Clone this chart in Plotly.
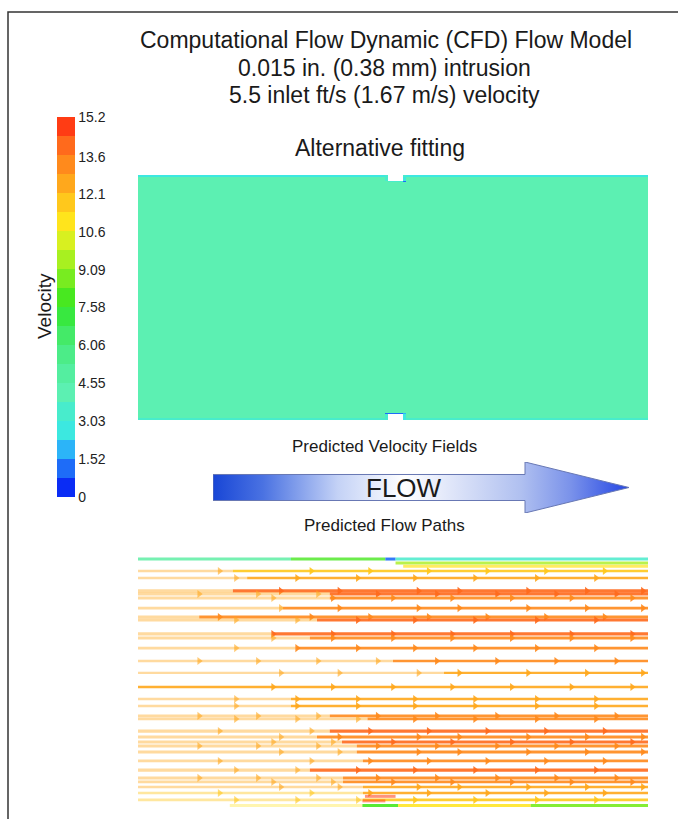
import plotly.graph_objects as go

# ---- velocity legend (m/s) -------------------------------------------------
VEL_MIN, VEL_MAX = 0.0, 15.2
TICK_VALUES = [0, 1.52, 3.03, 4.55, 6.06, 7.58, 9.09, 10.6, 12.1, 13.6, 15.2]
TICK_LABELS = ["0", "1.52", "3.03", "4.55", "6.06", "7.58", "9.09",
               "10.6", "12.1", "13.6", "15.2"]
BAND_COLORS = [
    "#0a2cf5", "#1e6cf8", "#2cb4f8", "#3ce8e0", "#48eccc",
    "#5cf0b2", "#54eea0", "#4cec88", "#44ea68", "#38e840",
    "#48e820", "#78ec20", "#a8f020", "#d8f020", "#ffe41c",
    "#ffc81c", "#ffa81c", "#ff8a1c", "#ff6a1c", "#ff3c14",
]

# ---- predicted velocity field, alternative fitting (coarse cells, % of pipe) --
FIELD_X_EDGES = [0, 48.4, 49.0, 52.0, 52.6, 100]
FIELD_Y_EDGES = [0, 1.0, 2.4, 3.0, 97.0, 97.6, 99.0, 100]
FIELD_VEL = [
    [3.4, 3.4, None, 2.4, 3.4],
    [4.2, 3.6, None, 2.4, 4.2],
    [4.2, 1.2, 1.0, 2.0, 4.2],
    [4.2, 4.2, 4.2, 4.2, 4.2],
    [4.2, 4.2, 3.4, 1.2, 4.2],
    [4.2, 3.6, None, 3.0, 4.2],
    [2.9, 3.4, None, 3.4, 2.9],
]

# ---- predicted flow paths (% of length, % of diameter) ---------------------
PATH_Y = [94.1, 91.3, 86.2, 85.0, 83.4, 79.4, 75.9, 74.7, 69.2, 67.6,
          63.6, 58.5, 53.8, 48.2, 43.5, 40.7, 36.8, 35.6, 30.8, 28.5,
          26.5, 24.9, 22.5, 19.0, 15.4, 12.3, 10.7, 8.7, 6.3, 3.6]
PATH_SPLIT = [18.6, 21.4, 18.6, 37.6, 37.6, 28.4, 12.0, 35.1, 26.5, 33.7,
              31.2, 50.0, 60.0, 0.0, 30.0, 30.0, 37.6, 45.0, 37.6, 35.1,
              40.0, 42.9, 42.9, 44.1, 33.7, 40.2, 40.2, 44.1, 44.1, 44.1]
PATH_V_IN = [12.3, 12.3, 12.5, 12.3, 12.3, 12.3, 12.5, 12.3, 12.3, 12.3,
             12.3, 12.3, 12.3, 12.3, 12.3, 12.3, 12.3, 12.3, 12.3, 12.3,
             12.3, 12.3, 12.3, 12.3, 12.3, 12.3, 12.3, 12.3, 12.0, 11.8]
PATH_V_OUT = [12.1, 12.6, 13.8, 13.8, 13.6, 13.6, 13.6, 13.8, 13.8, 13.6,
              13.4, 13.0, 12.6, 12.6, 12.8, 12.8, 13.4, 13.6, 13.8, 13.6,
              13.8, 13.6, 13.6, 13.6, 13.8, 13.6, 13.4, 12.8, 12.4, 11.8]
PATH_WIDTH = [2.6, 2.6, 3.2, 3.2, 3.0, 2.8, 3.0, 3.0, 3.2, 3.0,
              2.8, 2.6, 2.4, 2.4, 2.4, 2.4, 2.8, 2.8, 3.2, 3.0,
              3.0, 3.0, 3.0, 2.8, 3.2, 3.0, 2.8, 2.6, 2.6, 2.6]
PATH_ARROW_SET = [3, 1, 4, 2, 0, 4, 3, 1, 0, 0,
                  1, 2, 4, 0, 1, 1, 2, 1, 3, 4,
                  0, 2, 4, 3, 1, 2, 0, 4, 3, 1]
ARROW_SETS = [
    [26.5, 38.2, 50.0, 61.6, 73.3, 85.0, 96.9],
    [19.2, 31.2, 43.1, 54.3, 66.1, 78.2, 89.8],
    [12.0, 23.5, 35.3, 47.0, 58.6, 70.4, 82.0, 93.8],
    [16.0, 34.0, 45.5, 57.0, 68.5, 80.0, 91.5],
    [28.0, 39.5, 55.0, 63.0, 76.5, 88.0, 99.0],
]

# near-wall and recirculation pathlines: (y, start, end, velocity, opacity)
WALL_Y = [98.8, 98.8, 98.8, 98.8, 97.2, 95.9, 1.4, 1.4, 1.4, 1.4, 5.0, 3.2]
WALL_X0 = [0.0, 30.0, 48.5, 50.5, 50.5, 52.0, 18.0, 44.0, 51.0, 77.0, 44.5, 44.0]
WALL_X1 = [30.0, 48.5, 50.5, 100.0, 100.0, 100.0, 44.0, 51.0, 77.0, 100.0, 50.5, 48.5]
WALL_V = [4.8, 8.0, 1.0, 3.6, 9.6, 11.0, 11.0, 8.2, 11.0, 8.4, 14.6, 14.8]
WALL_ALPHA = [0.8, 0.8, 0.9, 0.85, 0.8, 0.7, 0.35, 0.9, 0.85, 0.9, 0.55, 0.5]

FONT = "Liberation Sans, Arial, sans-serif"
W, H = 678, 819


def band_color(v):
    i = int(v / ((VEL_MAX - VEL_MIN) / len(BAND_COLORS)))
    return BAND_COLORS[max(0, min(i, len(BAND_COLORS) - 1))]


def px_x(p):
    return p / W


def px_y(p):
    return 1 - p / H


colorscale = []
n = len(BAND_COLORS)
for i, c in enumerate(BAND_COLORS):
    colorscale.append([i / n, c])
    colorscale.append([(i + 1) / n, c])

fig = go.Figure()

# velocity field
fig.add_trace(go.Heatmap(
    x=FIELD_X_EDGES, y=FIELD_Y_EDGES, z=FIELD_VEL,
    zmin=VEL_MIN, zmax=VEL_MAX, colorscale=colorscale,
    hoverinfo="skip", xaxis="x", yaxis="y",
    colorbar=dict(
        x=px_x(57), xanchor="left", y=px_y(307), yanchor="middle",
        thickness=18, thicknessmode="pixels", len=380, lenmode="pixels",
        tickvals=TICK_VALUES, ticktext=TICK_LABELS, ticks="",
        tickfont=dict(family=FONT, size=14, color="#222222"),
        outlinewidth=0, ypad=0, xpad=0,
    ),
))

# flow paths: inlet (faint) and developed (strong) portions
IN_ALPHA, OUT_ALPHA = 0.42, 0.9
for k, y in enumerate(PATH_Y):
    split = PATH_SPLIT[k]
    w = PATH_WIDTH[k]
    c_in, c_out = band_color(PATH_V_IN[k]), band_color(PATH_V_OUT[k])
    if split > 0:
        fig.add_trace(go.Scatter(
            x=[0, split], y=[y, y], mode="lines", xaxis="x2", yaxis="y2",
            line=dict(color=c_in, width=w), opacity=IN_ALPHA, hoverinfo="skip"))
    fig.add_trace(go.Scatter(
        x=[split, 100], y=[y, y], mode="lines", xaxis="x2", yaxis="y2",
        line=dict(color=c_out, width=w), opacity=OUT_ALPHA, hoverinfo="skip"))
    arrows = ARROW_SETS[PATH_ARROW_SET[k]]
    a_in = [a for a in arrows if a < split]
    a_out = [a for a in arrows if a >= split]
    for xs, col, op in ((a_in, c_in, 0.6), (a_out, c_out, OUT_ALPHA)):
        if xs:
            fig.add_trace(go.Scatter(
                x=xs, y=[y] * len(xs), mode="markers", xaxis="x2", yaxis="y2",
                marker=dict(symbol="triangle-right", size=7, color=col,
                            line=dict(width=0)),
                opacity=op, hoverinfo="skip"))

for k, y in enumerate(WALL_Y):
    fig.add_trace(go.Scatter(
        x=[WALL_X0[k], WALL_X1[k]], y=[y, y], mode="lines",
        xaxis="x2", yaxis="y2",
        line=dict(color=band_color(WALL_V[k]), width=3),
        opacity=WALL_ALPHA[k], hoverinfo="skip"))

# FLOW direction arrow
ARROW_X = [0, 75, 75, 100, 75, 75, 0, 0]
ARROW_Y = [24.5, 24.5, 0, 50, 100, 75.5, 75.5, 24.5]
fig.add_trace(go.Scatter(
    x=ARROW_X, y=ARROW_Y, mode="lines", fill="toself",
    xaxis="x3", yaxis="y3",
    line=dict(color="#6878b4", width=1),
    fillgradient=dict(type="horizontal", colorscale=[
        [0.0, "#1846d6"], [0.12, "#4a72e2"], [0.30, "#c4d2f6"],
        [0.46, "#ffffff"], [0.74, "#b0c0f0"], [0.86, "#7a92ea"],
        [1.0, "#2446e4"]]),
    hoverinfo="skip"))

axis_off = dict(visible=False, showgrid=False, zeroline=False, fixedrange=True)
fig.update_layout(
    width=W, height=H,
    margin=dict(l=0, r=0, t=0, b=0),
    paper_bgcolor="white", plot_bgcolor="white",
    showlegend=False,
    xaxis=dict(axis_off, domain=[px_x(138), px_x(648)], range=[0, 100]),
    yaxis=dict(axis_off, domain=[px_y(420), px_y(175)], range=[0, 100]),
    xaxis2=dict(axis_off, domain=[px_x(138), px_x(648)], range=[0, 100]),
    yaxis2=dict(axis_off, domain=[px_y(809), px_y(556)], range=[0, 100]),
    xaxis3=dict(axis_off, domain=[px_x(213), px_x(629)], range=[0, 100]),
    yaxis3=dict(axis_off, domain=[px_y(513), px_y(462)], range=[0, 100]),
    shapes=[dict(type="rect", xref="paper", yref="paper",
                 x0=px_x(8), x1=1.02, y0=-0.02, y1=px_y(12),
                 line=dict(color="#333333", width=1.5))],
)


def label(text, x, y, size, **kw):
    fig.add_annotation(text=text, x=px_x(x), y=px_y(y), xref="paper",
                       yref="paper", showarrow=False, xanchor="center",
                       yanchor="middle",
                       font=dict(family=FONT, size=size, color="#1a1a1a"), **kw)


label("Computational Flow Dynamic (CFD) Flow Model", 386, 40, 23)
label("0.015 in. (0.38 mm) intrusion", 385, 68, 23)
label("5.5 inlet ft/s (1.67 m/s) velocity", 385, 95, 23)
label("Alternative fitting", 380, 148, 23)
label("Velocity", 44, 306, 19, textangle=-90)
label("Predicted Velocity Fields", 384, 447, 17)
label("Predicted Flow Paths", 384, 525, 17)
fig.add_annotation(text="FLOW", x=46, y=50, xref="x3", yref="y3",
                   showarrow=False,
                   font=dict(family=FONT, size=26, color="#1a1a1a"))

fig.write_html("out.html")
